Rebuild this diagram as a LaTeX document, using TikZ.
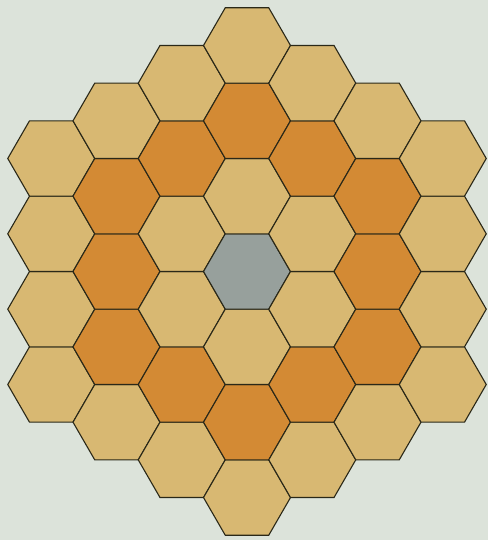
\documentclass[tikz,border=0pt]{standalone}
\definecolor{bg}{HTML}{DCE3DA}
\definecolor{hexlight}{HTML}{D8B872}
\definecolor{hexorange}{HTML}{D38A34}
\definecolor{hexgrey}{HTML}{97A09C}
\definecolor{hexline}{HTML}{2A2818}
\tikzset{hexcell/.style={draw=hexline,line width=1.1pt,line join=miter}}
\begin{document}
\begin{tikzpicture}[x=1pt,y=1pt]
\fill[bg] (0,0) rectangle (488,540);
\useasboundingbox (0,0) rectangle (488,540);
\def\R{43.5}
\foreach \q in {-3,...,3}{
  \foreach \r in {-3,...,3}{
    \pgfmathtruncatemacro{\s}{-\q-\r}
    \pgfmathtruncatemacro{\d}{max(abs(\q),abs(\r),abs(\s))}
    \ifnum\d<4
      \pgfmathsetmacro{\cx}{247+1.5*\R*\q}
      \pgfmathsetmacro{\cy}{268.5+sqrt(3)*\R*(\r+\q/2)}
      \ifcase\d
        \def\fc{hexgrey}\or\def\fc{hexlight}\or\def\fc{hexorange}\or\def\fc{hexlight}\fi
      \filldraw[hexcell,fill=\fc] (\cx,\cy) ++(0:\R) -- ++(120:\R) -- ++(180:\R) -- ++(240:\R) -- ++(300:\R) -- ++(0:\R) -- cycle;
    \fi
  }
}
\end{tikzpicture}
\end{document}
